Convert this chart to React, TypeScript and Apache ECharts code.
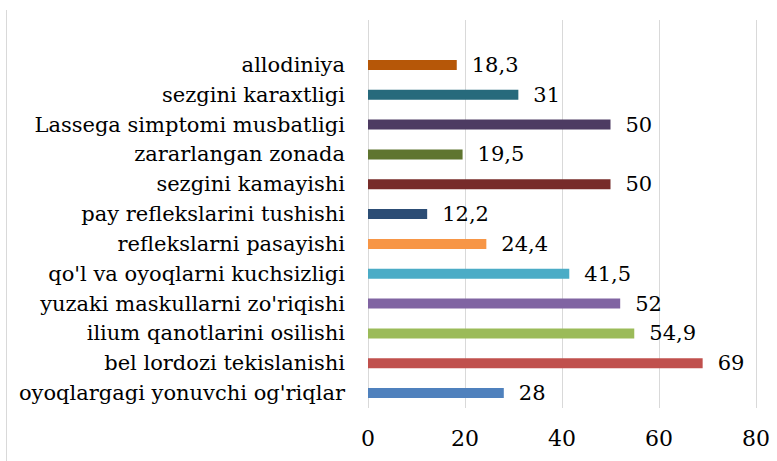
import React, { useEffect, useRef } from "react";
import * as echarts from "echarts";

const categories = [
  "oyoqlargagi yonuvchi og'riqlar",
  "bel lordozi tekislanishi",
  "ilium qanotlarini osilishi",
  "yuzaki maskullarni zo'riqishi",
  "qo'l va oyoqlarni kuchsizligi",
  "reflekslarni pasayishi",
  "pay reflekslarini tushishi",
  "sezgini kamayishi",
  "zararlangan zonada",
  "Lassega simptomi musbatligi",
  "sezgini karaxtligi",
  "allodiniya",
];

const values = [28, 69, 54.9, 52, 41.5, 24.4, 12.2, 50, 19.5, 50, 31, 18.3];

const colors = [
  "#4F81BD",
  "#C0504D",
  "#9BBB59",
  "#8064A2",
  "#4BACC6",
  "#F79646",
  "#2C4D75",
  "#772C2A",
  "#5F7530",
  "#4D3B62",
  "#276A7C",
  "#B65708",
];

const xTicks = [0, 20, 40, 60, 80];

const FONT = "DejaVu Serif";

export default function App() {
  const ref = useRef<HTMLDivElement>(null);
  useEffect(() => {
    if (!ref.current) return;
    const chart = echarts.init(ref.current, undefined, { renderer: "svg" });
    const opt: any = {
      animation: false,
      backgroundColor: "#ffffff",
      grid: [
        { left: 368, right: 21, top: 20, bottom: 53, containLabel: false, outerBoundsMode: "none" },
        { left: 368, right: 21, top: 50, bottom: 53, containLabel: false, outerBoundsMode: "none" },
      ],
      xAxis: [
        {
          type: "value",
          gridIndex: 0,
          min: xTicks[0],
          max: xTicks[xTicks.length - 1],
          interval: 20,
          axisLine: { show: false },
          axisTick: { show: false },
          splitLine: { show: true, lineStyle: { color: "#D9D9D9", width: 1 } },
          axisLabel: {
            show: true,
            margin: 19,
            fontFamily: FONT,
            fontSize: 22,
            color: "#000",
          },
        },
        {
          type: "value",
          gridIndex: 1,
          min: xTicks[0],
          max: xTicks[xTicks.length - 1],
          interval: 20,
          show: false,
        },
      ],
      yAxis: [
        {
          type: "value",
          gridIndex: 0,
          show: false,
        },
        {
          type: "category",
          gridIndex: 1,
          data: categories,
          axisLine: { show: false },
          axisTick: { show: false },
          splitLine: { show: false },
          axisLabel: {
            interval: 0,
            margin: 23,
            fontFamily: FONT,
            fontSize: 21,
            color: "#000",
          },
        },
      ],
      series: [
        {
          type: "bar",
          xAxisIndex: 1,
          yAxisIndex: 1,
          barWidth: 10,
          data: values.map((v, i) => ({ value: v, itemStyle: { color: colors[i] } })),
          label: {
            show: true,
            position: "right",
            distance: 15,
            fontFamily: FONT,
            fontSize: 21,
            color: "#000",
            formatter: (p: any) => String(p.value).replace(".", ","),
          },
        },
      ],
      graphic: [
        {
          type: "line",
          shape: { x1: 6.5, y1: 10, x2: 6.5, y2: 470 },
          style: { stroke: "#D9D9D9", lineWidth: 1 },
        },
      ],
    };
    chart.setOption(opt);
    return () => chart.dispose();
  }, []);
  return (
    <div
      ref={ref}
      style={{ position: "fixed", left: 0, top: 0, width: 777, height: 461 }}
    />
  );
}
